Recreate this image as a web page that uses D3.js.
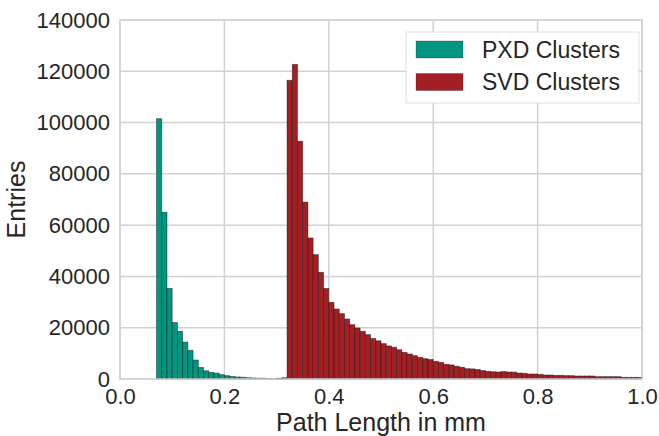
<!DOCTYPE html>
<html>
<head>
<meta charset="utf-8">
<script src="https://cdnjs.cloudflare.com/ajax/libs/d3/7.8.5/d3.min.js"></script>
<style>
    body { margin: 0; background: #ffffff; }
    text { font-family: "Liberation Sans", Arial, sans-serif; fill: #262626; }
</style>
</head>
<body>
<div id="my_dataviz"></div>
<script>
// bin lower edges, width 0.01 from 0.00 to 0.99
var binWidth = 0.01
var binStarts = d3.range(100).map(function (i) { return i / 100; })

// PXD cluster entries per bin (0.00 .. 0.99)
var pxdCounts = [
    0, 0, 0, 0, 0, 0, 0, 101500, 65000, 35300,
    22000, 18600, 14400, 11200, 7400, 4500, 3200, 2600, 2300, 1700,
    1300, 1000, 800, 700, 500, 400, 300, 300, 200, 150,
    100, 100, 0, 0, 0, 0, 0, 0, 0, 0,
    0, 0, 0, 0, 0, 0, 0, 0, 0, 0,
    0, 0, 0, 0, 0, 0, 0, 0, 0, 0,
    0, 0, 0, 0, 0, 0, 0, 0, 0, 0,
    0, 0, 0, 0, 0, 0, 0, 0, 0, 0,
    0, 0, 0, 0, 0, 0, 0, 0, 0, 0,
    0, 0, 0, 0, 0, 0, 0, 0, 0, 0
]

// SVD cluster entries per bin (0.00 .. 0.99)
var svdCounts = [
    0, 0, 0, 0, 0, 0, 0, 0, 0, 0,
    0, 0, 0, 0, 0, 0, 0, 0, 0, 0,
    0, 0, 0, 0, 0, 0, 0, 0, 0, 0,
    300, 500, 116500, 122700, 92700, 69000, 55000, 48500, 41600, 35300,
    29900, 27300, 25500, 23400, 21200, 19900, 18600, 17300, 15800, 14900,
    13800, 12900, 12400, 11400, 10400, 9750, 9100, 8450, 7930, 7600,
    6890, 6500, 5750, 5500, 5000, 4600, 4030, 3950, 3700, 3300,
    3000, 2800, 2730, 2900, 2730, 2700, 2340, 2210, 1950, 1950,
    1820, 1560, 1560, 1430, 1430, 1300, 1300, 1170, 1170, 1170,
    1170, 910, 910, 910, 910, 910, 650, 650, 650, 650
]

var seriesNames = ["PXD Clusters", "SVD Clusters"]
var seriesColors = ["#00967f", "#a31f24"]
var xTicks = [0.0, 0.2, 0.4, 0.6, 0.8, 1.0]
var yTicks = [0, 20000, 40000, 60000, 80000, 100000, 120000, 140000]

drawHistogram()

function drawHistogram() {
    var width = 659
    var height = 436
    var margin = { top: 20, right: 17, bottom: 57, left: 120 }

    var svg = d3.select("#my_dataviz")
        .append("svg")
        .attr("width", width)
        .attr("height", height)

    var x = d3.scaleLinear()
        .domain([0, 1])
        .range([margin.left, width - margin.right])

    var y = d3.scaleLinear()
        .domain([0, 140000])
        .range([height - margin.bottom, margin.top])

    // grid lines
    svg.append("g")
        .selectAll("line.vgrid")
        .data(xTicks)
        .enter()
        .append("line")
        .attr("x1", function (d) { return x(d); })
        .attr("x2", function (d) { return x(d); })
        .attr("y1", y(0))
        .attr("y2", y(140000))
        .style("stroke", "#d2d2d2")
        .style("stroke-width", 1.5)

    svg.append("g")
        .selectAll("line.hgrid")
        .data(yTicks)
        .enter()
        .append("line")
        .attr("x1", x(0))
        .attr("x2", x(1))
        .attr("y1", function (d) { return y(d); })
        .attr("y2", function (d) { return y(d); })
        .style("stroke", "#d2d2d2")
        .style("stroke-width", 1.5)

    // one group per series, bars built from the bin arrays
    var allCounts = [pxdCounts, svdCounts]
    allCounts.forEach(function (counts, s) {
        svg.append("g")
            .selectAll("rect")
            .data(binStarts)
            .enter()
            .append("rect")
            .attr("x", function (d) { return x(d); })
            .attr("width", function (d) { return x(d + binWidth) - x(d); })
            .attr("y", function (d, i) { return y(counts[i]); })
            .attr("height", function (d, i) { return y(0) - y(counts[i]); })
            .style("fill", seriesColors[s])
            .style("stroke", "rgba(20,20,20,0.55)")
            .style("stroke-width", 0.8)
            .style("display", function (d, i) {
                // matplotlib still outlines empty bins before the first entry
                return counts[i] === 0 && d > 0.3 ? "none" : null;
            })
    })

    // axes frame
    svg.append("rect")
        .attr("x", x(0))
        .attr("y", y(140000))
        .attr("width", x(1) - x(0))
        .attr("height", y(0) - y(140000))
        .style("fill", "none")
        .style("stroke", "#d2d2d2")
        .style("stroke-width", 1.5)

    var xAxis = d3.axisBottom(x)
        .tickValues(xTicks)
        .tickSize(0)
        .tickPadding(9)
        .tickFormat(d3.format(".1f"))

    var yAxis = d3.axisLeft(y)
        .tickValues(yTicks)
        .tickSize(0)
        .tickPadding(10)
        .tickFormat(d3.format("d"))

    svg.append("g")
        .attr("transform", "translate(0," + y(0) + ")")
        .call(xAxis)
        .call(function (g) { g.select(".domain").remove(); })
        .selectAll("text")
        .style("font-size", "22px")
        .style("fill", "#262626")

    svg.append("g")
        .attr("transform", "translate(" + x(0) + ",0)")
        .call(yAxis)
        .call(function (g) { g.select(".domain").remove(); })
        .selectAll("text")
        .style("font-size", "22px")
        .style("fill", "#262626")

    // axis titles
    svg.append("text")
        .attr("x", (x(0) + x(1)) / 2)
        .attr("y", 431)
        .attr("text-anchor", "middle")
        .style("font-size", "25px")
        .text("Path Length in mm")

    svg.append("text")
        .attr("transform", "translate(25," + (y(0) + y(140000)) / 2 + ")rotate(-90)")
        .attr("text-anchor", "middle")
        .style("font-size", "25px")
        .text("Entries")

    // legend
    var legend = svg.append("g")
        .attr("transform", "translate(406,32)")

    legend.append("rect")
        .attr("width", 233)
        .attr("height", 71)
        .style("fill", "#ffffff")
        .style("stroke", "#e0e0e0")
        .style("stroke-width", 1)

    var items = legend.selectAll("g.item")
        .data(seriesNames)
        .enter()
        .append("g")
        .attr("class", "item")
        .attr("transform", function (d, i) { return "translate(10," + (9 + i * 32.5) + ")"; })

    items.append("rect")
        .attr("width", 47)
        .attr("height", 17)
        .style("fill", function (d, i) { return seriesColors[i]; })
        .style("stroke", "rgba(20,20,20,0.3)")
        .style("stroke-width", 0.8)

    items.append("text")
        .attr("x", 66)
        .attr("y", 8.5)
        .attr("dy", "0.35em")
        .style("font-size", "23px")
        .text(function (d) { return d; })
}
</script>
</body>
</html>
